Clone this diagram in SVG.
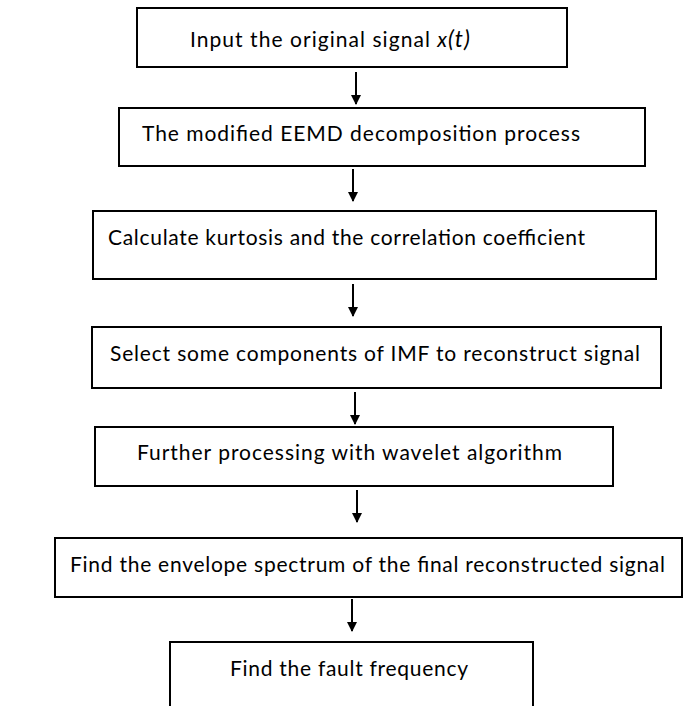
<svg xmlns="http://www.w3.org/2000/svg" width="683" height="706" viewBox="0 0 683 706">
<defs>
<style>
.box{fill:#fff;stroke:#000;stroke-width:2}
.t{font-family:Lato,"Open Sans","Liberation Sans",sans-serif;font-size:21px;fill:#000}
.c{stroke:#000;stroke-width:2;fill:none;marker-end:url(#ah)}
</style>
<marker id="ah" viewBox="0 0 10 10" refX="9" refY="5" markerWidth="5" markerHeight="5" markerUnits="strokeWidth" orient="auto">
<path d="M0,0 L10,5 L0,10 z" fill="#000"/>
</marker>
</defs>
<rect width="683" height="706" fill="#fff"/>
<g id="connectors">
<line class="c" x1="356" y1="72" x2="356" y2="104"/>
<line class="c" x1="353" y1="169" x2="353" y2="201"/>
<line class="c" x1="353" y1="284" x2="353" y2="316"/>
<line class="c" x1="355" y1="392" x2="355" y2="424"/>
<line class="c" x1="357" y1="490" x2="357" y2="522"/>
<line class="c" x1="352" y1="599" x2="352" y2="631"/>
</g>
<g id="n1">
<rect class="box" x="137" y="8" width="430" height="59"/>
<text class="t" x="190" y="47" textLength="280" lengthAdjust="spacing">Input the original signal <tspan font-style="italic">x</tspan><tspan font-style="italic" font-size="23">(t)</tspan></text>
</g>
<g id="n2">
<rect class="box" x="119" y="108" width="526" height="58"/>
<text class="t" x="142" y="141" textLength="438" lengthAdjust="spacing">The modified EEMD decomposition process</text>
</g>
<g id="n3">
<rect class="box" x="93" y="211" width="563" height="68"/>
<text class="t" x="108" y="245" textLength="477" lengthAdjust="spacing">Calculate kurtosis and the correlation coefficient</text>
</g>
<g id="n4">
<rect class="box" x="92" y="327" width="569" height="61"/>
<text class="t" x="110" y="361" textLength="530" lengthAdjust="spacing">Select some components of IMF to reconstruct signal</text>
</g>
<g id="n5">
<rect class="box" x="95" y="427" width="518" height="59"/>
<text class="t" x="137" y="460" textLength="425" lengthAdjust="spacing">Further processing with wavelet algorithm</text>
</g>
<g id="n6">
<rect class="box" x="55" y="538" width="627" height="59"/>
<text class="t" x="70" y="572" textLength="595" lengthAdjust="spacing">Find the envelope spectrum of the final reconstructed signal</text>
</g>
<g id="n7">
<rect class="box" x="170" y="642" width="363" height="80"/>
<text class="t" x="230" y="676" textLength="238" lengthAdjust="spacing">Find the fault frequency</text>
</g>
</svg>
